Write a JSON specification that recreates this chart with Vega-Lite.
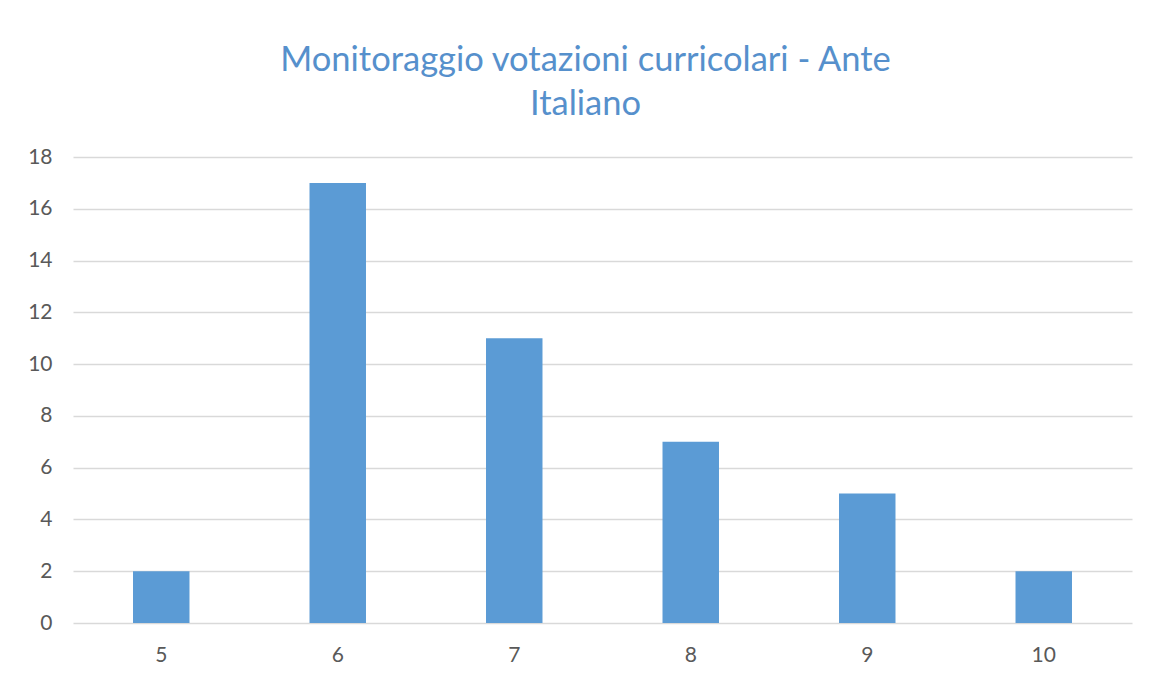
{
  "$schema": "https://vega.github.io/schema/vega-lite/v6.json",
  "autosize": "none",
  "width": 1059,
  "height": 466,
  "padding": {"left": 73, "top": 157, "right": 18, "bottom": 54},
  "background": "white",
  "title": {
    "text": ["Monitoraggio votazioni curricolari - Ante", "Italiano"],
    "font": "Lato",
    "fontSize": 34.5,
    "fontWeight": "normal",
    "color": "#5690cc",
    "lineHeight": 44,
    "anchor": "middle",
    "dx": -17,
    "offset": 24
  },
  "data": {
    "values": [
      {"voto": "5", "count": 2},
      {"voto": "6", "count": 17},
      {"voto": "7", "count": 11},
      {"voto": "8", "count": 7},
      {"voto": "9", "count": 5},
      {"voto": "10", "count": 2}
    ]
  },
  "mark": {"type": "bar", "color": "#5b9bd5"},
  "encoding": {
    "x": {
      "field": "voto",
      "type": "ordinal",
      "sort": null,
      "scale": {"paddingInner": 0.68, "paddingOuter": 0.34},
      "axis": {
        "title": null,
        "labelAngle": 0,
        "ticks": false,
        "domain": false,
        "labelPadding": 21,
        "labelFont": "Lato",
        "labelFontSize": 21,
        "labelColor": "#595959"
      }
    },
    "y": {
      "field": "count",
      "type": "quantitative",
      "scale": {"domain": [0, 18], "nice": false},
      "axis": {
        "title": null,
        "values": [0, 2, 4, 6, 8, 10, 12, 14, 16, 18],
        "ticks": false,
        "domain": false,
        "grid": true,
        "gridColor": "#d9d9d9",
        "gridWidth": 1.5,
        "labelPadding": 21,
        "labelFont": "Lato",
        "labelFontSize": 21,
        "labelColor": "#595959"
      }
    }
  },
  "config": {"view": {"stroke": null}}
}
